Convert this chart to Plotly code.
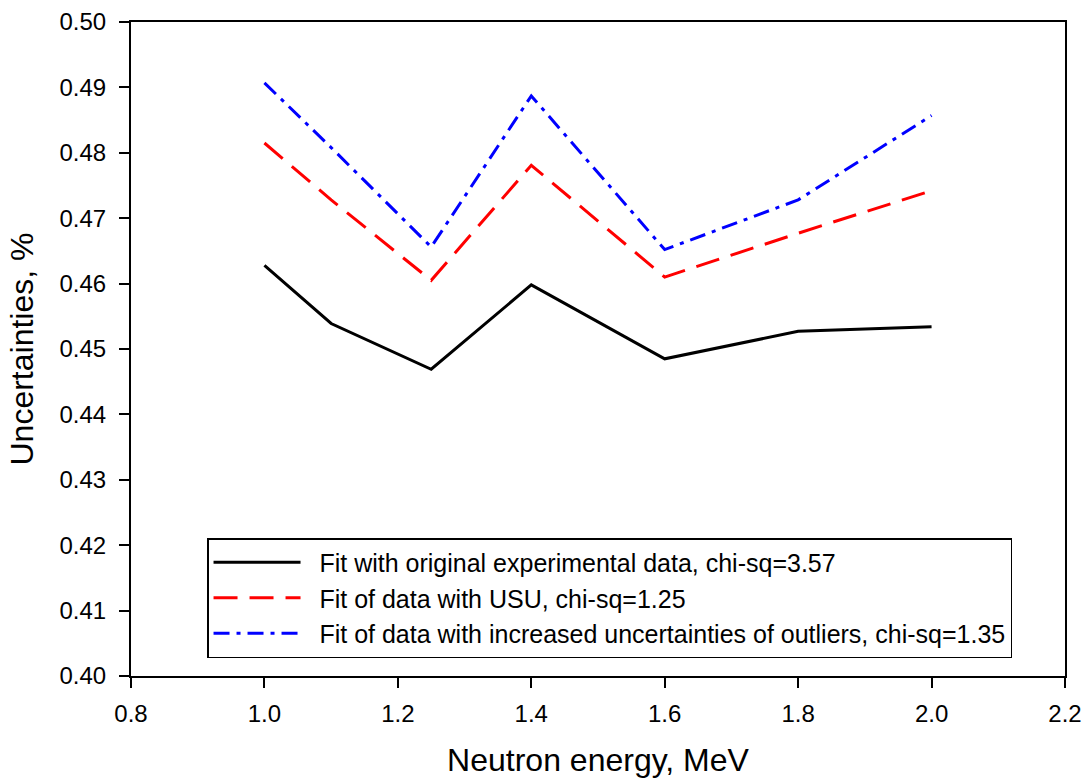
import plotly.graph_objects as go

energy = [1.0, 1.1, 1.25, 1.4, 1.6, 1.8, 2.0]
fit_original = [0.4628, 0.4539, 0.4469, 0.4598, 0.4485, 0.4527, 0.4534]
fit_usu = [0.4815, 0.4728, 0.4605, 0.4781, 0.4610, 0.4677, 0.4742]
fit_outliers = [0.4907, 0.4808, 0.4656, 0.4887, 0.4652, 0.4728, 0.4857]

names = [
    "Fit with original experimental data, chi-sq=3.57",
    "Fit of data with USU, chi-sq=1.25",
    "Fit of data with increased uncertainties of outliers, chi-sq=1.35",
]

FONT = "Liberation Sans, Arial, sans-serif"
PAD = "\u00a0\u00a0"

fig = go.Figure()
fig.add_trace(go.Scatter(x=energy, y=fit_original, mode="lines", name=PAD + names[0],
                         line=dict(color="black", width=3)))
fig.add_trace(go.Scatter(x=energy, y=fit_usu, mode="lines", name=PAD + names[1],
                         line=dict(color="#ff0000", width=3, dash="24px,12px")))
fig.add_trace(go.Scatter(x=energy, y=fit_outliers, mode="lines", name=PAD + names[2],
                         line=dict(color="#0000ff", width=3, dash="16px,7px,4px,7px")))

fig.update_layout(
    width=1086, height=778,
    margin=dict(l=131, r=21, t=22, b=102, autoexpand=False),
    plot_bgcolor="white", paper_bgcolor="white",
    font=dict(family=FONT, size=24, color="black"),
    showlegend=True,
    legend=dict(
        x=0.0814, y=0.211, xanchor="left", yanchor="top",
        bgcolor="white", bordercolor="black", borderwidth=1.5,
        font=dict(family=FONT, size=25, color="black"),
        itemwidth=87,
    ),
    xaxis=dict(
        range=[0.8, 2.2], tick0=0.8, dtick=0.2, tickformat=".1f",
        showline=True, linecolor="black", linewidth=2, mirror=True,
        ticks="outside", ticklen=10, tickwidth=1.5, tickcolor="black",
        showgrid=False, zeroline=False, ticklabelstandoff=5,
        tickfont=dict(family=FONT, size=24, color="black"),
        title=dict(text="Neutron energy, MeV", font=dict(family=FONT, size=32, color="black"), standoff=26),
        automargin=False,
    ),
    yaxis=dict(
        range=[0.40, 0.50], tick0=0.40, dtick=0.01, tickformat=".2f",
        showline=True, linecolor="black", linewidth=2, mirror=True,
        ticks="outside", ticklen=10, tickwidth=1.5, tickcolor="black",
        showgrid=False, zeroline=False, ticklabelstandoff=8,
        tickfont=dict(family=FONT, size=24, color="black"),
        title=dict(text="Uncertainties, %", font=dict(family=FONT, size=32, color="black"), standoff=16),
        automargin=False,
    ),
)

fig.write_html("out.html")
